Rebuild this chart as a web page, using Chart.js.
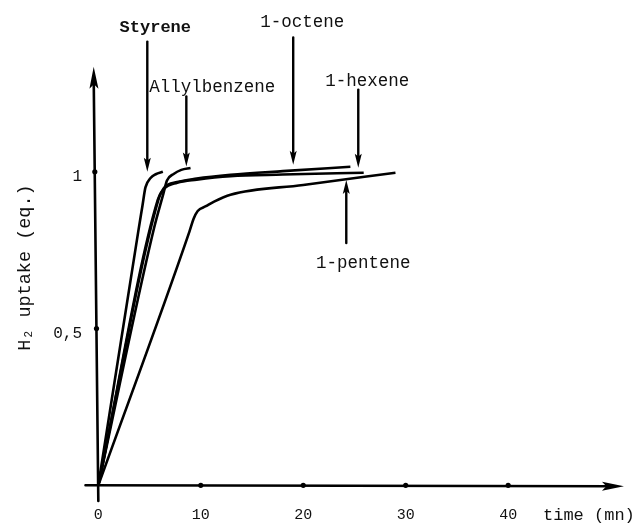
<!DOCTYPE html>
<html><head><meta charset="utf-8">
<script src="https://cdn.jsdelivr.net/npm/chart.js@4"></script>
<style>html,body{margin:0;padding:0;background:#fff;} #wrap{position:relative;width:638px;height:526px;}</style>
</head><body><div id="wrap"><canvas id="c"></canvas></div>
<script>
// ---- data (time in min, H2 uptake in eq.) ----
const seriesNames = ['Styrene', 'Allylbenzene', '1-octene', '1-hexene', '1-pentene'];
const styrene      = [[0,0],[3.9,0.81],[4.3,0.89],[4.6,0.95],[5.1,0.98],[5.6,0.992],[6.3,1.0]];
const allylbenzene = [[0,0],[5.4,0.815],[6.35,0.93],[6.7,0.972],[7.35,0.993],[8.1,1.006],[9.0,1.012]];
const octene       = [[0,0],[5.9,0.915],[6.4,0.948],[7.7,0.967],[9.6,0.978],[12.9,0.99],[18,1.002],[24.6,1.016]];
const hexene       = [[0,0],[5.8,0.91],[6.4,0.945],[7.7,0.965],[9.6,0.975],[12.9,0.986],[18,0.991],[25.9,0.997]];
const pentene      = [[0,0],[8.9,0.81],[9.3,0.85],[9.7,0.875],[10.5,0.89],[11.3,0.905],[12.9,0.927],[20,0.958],[29,0.997]];
const xTicks = [0, 10, 20, 30, 40];
const yTicks = [0.5, 1];
const yTickLabels = ['0,5', '1'];
const xTitle = 'time (mn)';
const yTitle = 'H\u2082 uptake (eq.)';
// callout labels with arrows (label centre and arrow shaft in data units)
const callouts = [
  {text: 'Styrene',      lx: 5.56,  ly: 1.46,  ax: 4.78,  from: 1.415, to: 1.0},
  {text: 'Allylbenzene', lx: 11.12, ly: 1.268, ax: 8.59,  from: 1.24,  to: 1.017},
  {text: '1-octene',     lx: 19.9,  ly: 1.476, ax: 19.02, from: 1.428, to: 1.022},
  {text: '1-hexene',     lx: 26.24, ly: 1.288, ax: 25.37, from: 1.262, to: 1.013},
  {text: '1-pentene',    lx: 25.85, ly: 0.709, ax: 24.2,  from: 0.773, to: 0.974}
];

const allSeries = [styrene, allylbenzene, octene, hexene, pentene];
const MONO = '"Liberation Mono", "DejaVu Sans Mono", monospace';

function arrowHead(ctx, x, y, dx, dy, len, half) {
  const n = Math.hypot(dx, dy); const ux = dx / n, uy = dy / n;
  ctx.beginPath();
  ctx.moveTo(x, y);
  ctx.lineTo(x - ux * len - uy * half, y - uy * len + ux * half);
  ctx.lineTo(x - ux * len * 0.8, y - uy * len * 0.8);
  ctx.lineTo(x - ux * len + uy * half, y - uy * len - ux * half);
  ctx.closePath();
  ctx.fill();
}

const sketchPlugin = {
  id: 'sketch',
  afterDatasetsDraw(chart) {
    const {ctx, scales: {x, y}} = chart;
    const X = v => x.getPixelForValue(v), Y = v => y.getPixelForValue(v);
    ctx.save();
    ctx.strokeStyle = '#000'; ctx.fillStyle = '#000'; ctx.lineCap = 'round';
    // x axis with arrow
    ctx.lineWidth = 2.6;
    const xa0 = X(-1.25), xa1 = X(51.3), y0 = Y(0);
    ctx.beginPath(); ctx.moveTo(xa0, y0); ctx.lineTo(xa1 - 12, y0 + 1); ctx.stroke();
    arrowHead(ctx, xa1, y0 + 1, 1, 0, 22, 4.5);
    // y axis with arrow
    const yb = Y(-0.05), yt = Y(1.335), xb = X(0), xt = X(-0.45);
    ctx.beginPath(); ctx.moveTo(xb, yb); ctx.lineTo(xt, yt + 12); ctx.stroke();
    arrowHead(ctx, xt, yt, xt - xb, yt - yb, 22, 4.5);
    // tick dots
    xTicks.forEach(t => { if (t > 0) { ctx.beginPath(); ctx.arc(X(t), y0, 2.6, 0, Math.PI * 2); ctx.fill(); } });
    yTicks.forEach(v => {
      const f = (v - (-0.05)) / (1.335 + 0.05);
      const px = xb + (xt - xb) * f;
      ctx.beginPath(); ctx.arc(px, Y(v), 2.6, 0, Math.PI * 2); ctx.fill();
    });
    // callouts
    ctx.lineWidth = 2.4;
    callouts.forEach(c => {
      const ax = X(c.ax), a0 = Y(c.from), a1 = Y(c.to);
      const dir = a1 > a0 ? 1 : -1;
      ctx.beginPath(); ctx.moveTo(ax, a0); ctx.lineTo(ax, a1 - dir * 8); ctx.stroke();
      arrowHead(ctx, ax, a1, 0, dir, 14, 3.5);
      ctx.font = (c.text === 'Styrene' ? 'bold 17px ' : '17.5px ') + MONO;
      ctx.fillStyle = '#111'; ctx.textAlign = 'center'; ctx.textBaseline = 'middle';
      ctx.fillText(c.text, X(c.lx), Y(c.ly));
      ctx.fillStyle = '#000';
    });
    // axis titles
    ctx.fillStyle = '#111';
    ctx.font = '17px ' + MONO; ctx.textAlign = 'left'; ctx.textBaseline = 'middle';
    ctx.fillText(xTitle, X(43.4), y0 + 30);
    ctx.translate(25, (Y(0.58) + Y(1.0)) / 2 + 30);
    ctx.rotate(-Math.PI / 2);
    ctx.textAlign = 'center';
    ctx.font = '18.5px ' + MONO;
    ctx.fillText(yTitle, 0, 0);
    ctx.restore();
  }
};

new Chart(document.getElementById('c'), {
  type: 'line',
  data: {
    datasets: allSeries.map((s, i) => ({
      label: seriesNames[i],
      data: s.map(p => ({x: p[0], y: p[1]})),
      borderColor: '#000',
      borderWidth: 2.6,
      pointRadius: 0,
      fill: false,
      cubicInterpolationMode: 'monotone',
      clip: false
    }))
  },
  options: {
    responsive: true,
    maintainAspectRatio: false,
    animation: false,
    events: [],
    layout: {padding: {top: 62, right: 12, bottom: 0, left: 0}},
    plugins: {legend: {display: false}, tooltip: {enabled: false}},
    scales: {
      x: {
        type: 'linear', min: -1.3, max: 51.5,
        grid: {display: false, drawTicks: false}, border: {display: false},
        afterBuildTicks: s => { s.ticks = xTicks.map(v => ({value: v})); },
        afterFit: s => { s.height = 25; },
        ticks: {autoSkip: false, maxRotation: 0, padding: 5, color: '#111',
          font: {family: MONO, size: 15}, callback: v => String(v)}
      },
      y: {
        type: 'linear', min: -0.05, max: 1.35,
        grid: {display: false, drawTicks: false}, border: {display: false},
        afterBuildTicks: s => { s.ticks = yTicks.map(v => ({value: v})); },
        afterFit: s => { s.width = 85; },
        ticks: {autoSkip: false, padding: 3, labelOffset: 5, color: '#111',
          font: {family: MONO, size: 16}, callback: (v, i) => yTickLabels[i]}
      }
    }
  },
  plugins: [sketchPlugin]
});
</script>
</body></html>
